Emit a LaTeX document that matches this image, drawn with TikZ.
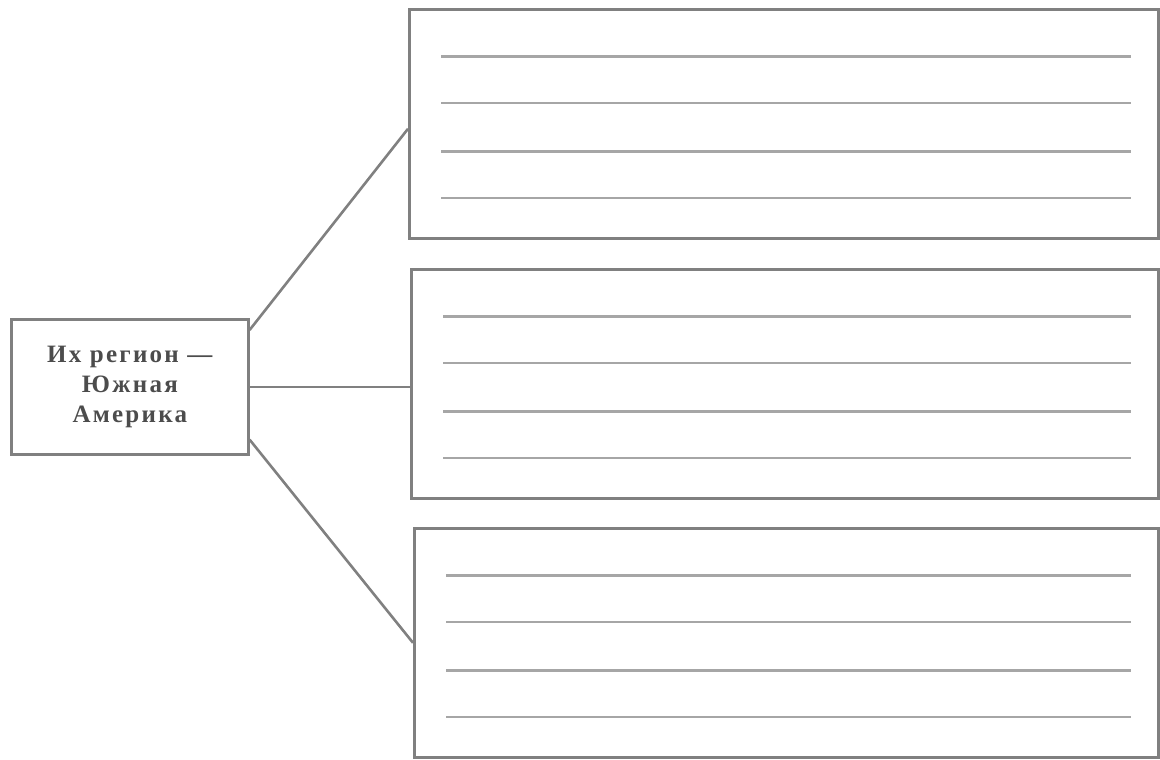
\documentclass[tikz,border=0pt]{standalone}
\usepackage{fontspec}
\setmainfont{Liberation Serif}
\usetikzlibrary{calc}
\begin{document}
\begin{tikzpicture}[x=1pt,y=-1pt,
  frame/.style={draw=black!50,line width=2.6pt,inner sep=0pt},
  bigbox/.style={frame,anchor=north west,minimum height=229pt},
  writeline/.style={draw=black!35,line width=2.4pt},
  link/.style={draw=black!50,line width=2.6pt}]
\useasboundingbox (0,0) rectangle (1160,760);
\node[frame,anchor=north west,minimum width=237pt,minimum height=135pt,align=center,
  font=\fontsize{25}{30}\selectfont\bfseries\addfontfeature{LetterSpace=9},text=black!70] (topic) at (10,318)
  {Их регион —\\Южная\\Америка};
\node[bigbox,minimum width=749pt] (b1) at (408,8) {};
\node[bigbox,minimum width=747pt] (b2) at (410,268) {};
\node[bigbox,minimum width=744pt] (b3) at (413,527) {};
\coordinate (rx) at (1131,0);
\foreach \b in {b1,b2,b3}{
  \foreach \f in {0.21,0.41,0.62,0.82}{
    \coordinate (p) at ($(\b.north west)!\f!(\b.south west)+(33,0)$);
    \draw[writeline] (p) -- (p -| rx);
  }
}
\coordinate (t1) at ([yshift=-12pt]topic.north east);
\coordinate (t3) at ([yshift=16pt]topic.south east);
\draw[link] (t1) -- ([yshift=-5pt]b1.west);
\draw[link] (topic.east) -- (topic.east -| b2.west);
\draw[link] (t3) -- (b3.west);
\end{tikzpicture}
\end{document}
